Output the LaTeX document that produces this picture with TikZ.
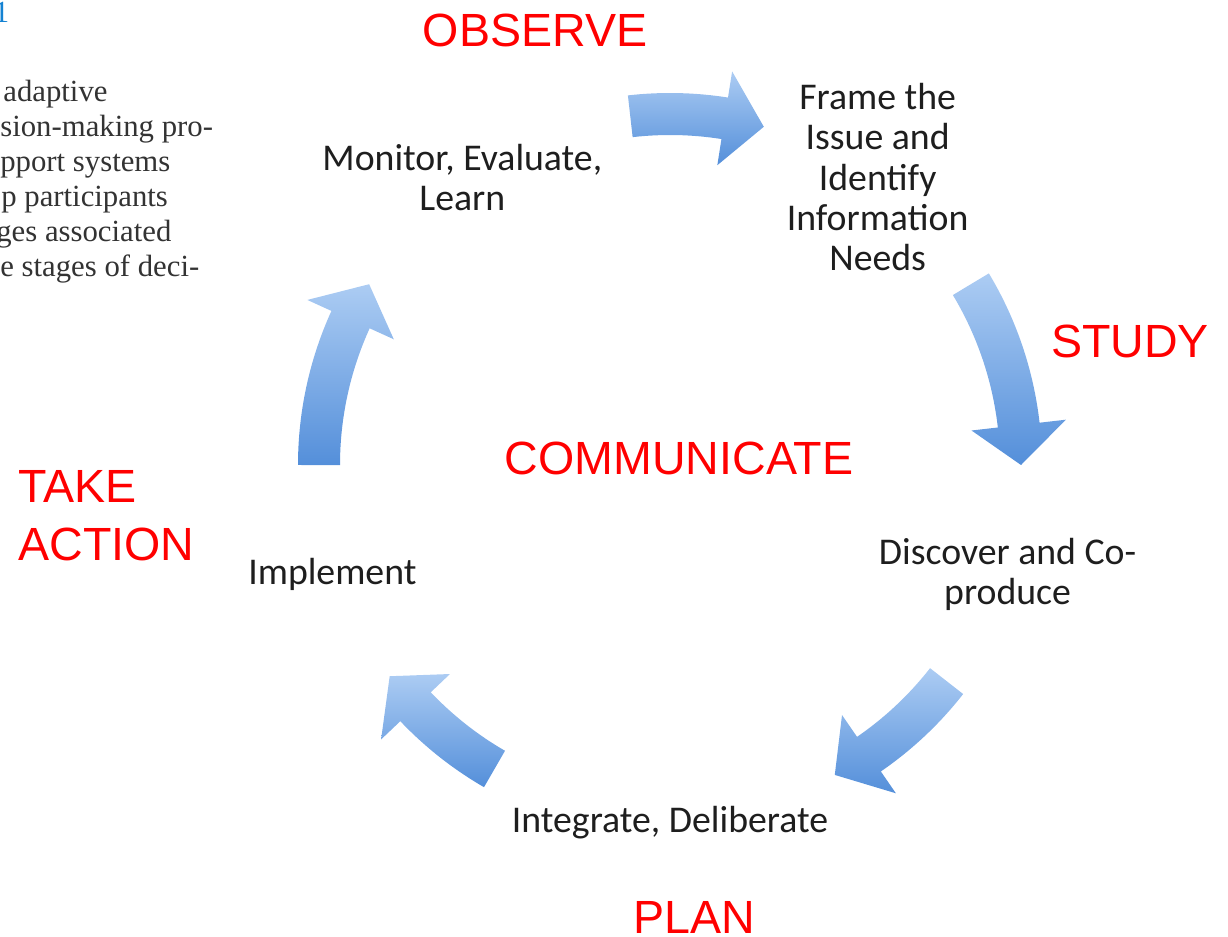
\documentclass[tikz,border=0pt]{standalone}
\usepackage{fontspec}
\setmainfont{Carlito}
\newfontfamily\labelfont{Liberation Sans}
\newfontfamily\pagefont{Liberation Serif}
\usetikzlibrary{positioning}

\definecolor{stagered}{RGB}{255,0,0}
\definecolor{arrowtop}{RGB}{172,204,243}
\definecolor{arrowbot}{RGB}{84,143,218}
\definecolor{steptext}{RGB}{30,30,30}
\definecolor{pageblue}{RGB}{20,130,210}

\tikzset{
  stage/.style={font=\labelfont\fontsize{26.5}{33}\selectfont, text=stagered, inner sep=0pt},
  steplabel/.style={font=\fontsize{21.5}{22.8}\selectfont, text=steptext, align=center, inner sep=0pt},
  arrowfill/.style={top color=arrowtop, bottom color=arrowbot, draw=none},
  pagetext/.style={font=\pagefont\fontsize{17.5}{20.5}\selectfont, text=black!80, inner sep=0pt, anchor=base west},
}

% curved block arrow on the cycle, from tail angle #1 clockwise to tip angle #2
\def\arrowrad{7.02}
\def\shaftw{0.84}
\def\headw{1.9}
\def\headlen{0.8}
\newcommand{\cyclearrow}[2]{%
  \pgfmathsetmacro{\headang}{#2+\headlen/\arrowrad*180/pi}%
  \pgfmathsetmacro{\outr}{\arrowrad+\shaftw/2}%
  \pgfmathsetmacro{\innr}{\arrowrad-\shaftw/2}%
  \pgfmathsetmacro{\headout}{\arrowrad+\headw/2}%
  \pgfmathsetmacro{\headin}{\arrowrad-\headw/2}%
  \shade[arrowfill] (#1:\outr) arc[start angle=#1, end angle=\headang, radius=\outr]
    -- (\headang:\headout) -- (#2:\arrowrad) -- (\headang:\headin)
    -- (\headang:\innr) arc[start angle=\headang, end angle=#1, radius=\innr] -- cycle;%
}

\begin{document}
\begin{tikzpicture}
\useasboundingbox (0,0) rectangle (24.56,-18.74);

% cut-off page text on the left
\node[pagetext, text=pageblue, anchor=base east] (pagenum) at (0.19,-0.46) {1};
\foreach \x/\txt [count=\i from 0] in {0.06/adaptive, 0/sion-making pro-, 0/pport systems,
    0.02/p participants, -0.08/ges associated, 0/e stages of deci-}
  \node[pagetext] (page\i) at (\x,-2.04-0.7*\i) {\txt};

\begin{scope}[shift={(13.4,-9.3)}]
\coordinate (c) at (0,0);

% the five steps
\node[steplabel] (monitor) at (125.8:7.1) {Monitor, Evaluate,\\Learn};
\node[steplabel] (frame) at (54.2:7.1) {Frame the\\Issue and\\Identify\\Information\\Needs};
\node[steplabel] (discover) at (-18:7.1) {Discover and Co-\\produce};
\node[steplabel] (integrate) at (-90:7.15) {Integrate, Deliberate};
\node[steplabel] (implement) at (198:7.1) {Implement};

% arrows between them
\cyclearrow{96.5}{74.5}
\cyclearrow{31}{0}
\cyclearrow{-38}{-62}
\cyclearrow{-120}{-143}
\cyclearrow{180}{149}
\end{scope}

% stage names
\node[stage, anchor=base] (observe) at (10.7,-0.94) {OBSERVE};
\node[stage, anchor=base] (study) at (22.6,-7.16) {STUDY};
\node[stage, anchor=base] (communicate) at (13.58,-9.48) {COMMUNICATE};
\node[stage, anchor=base west] (take) at (0.36,-10.04) {TAKE};
\node[stage, anchor=base west] (action) at (0.36,-11.2) {ACTION};
\node[stage, anchor=base] (plan) at (13.88,-18.66) {PLAN};
\end{tikzpicture}
\end{document}
